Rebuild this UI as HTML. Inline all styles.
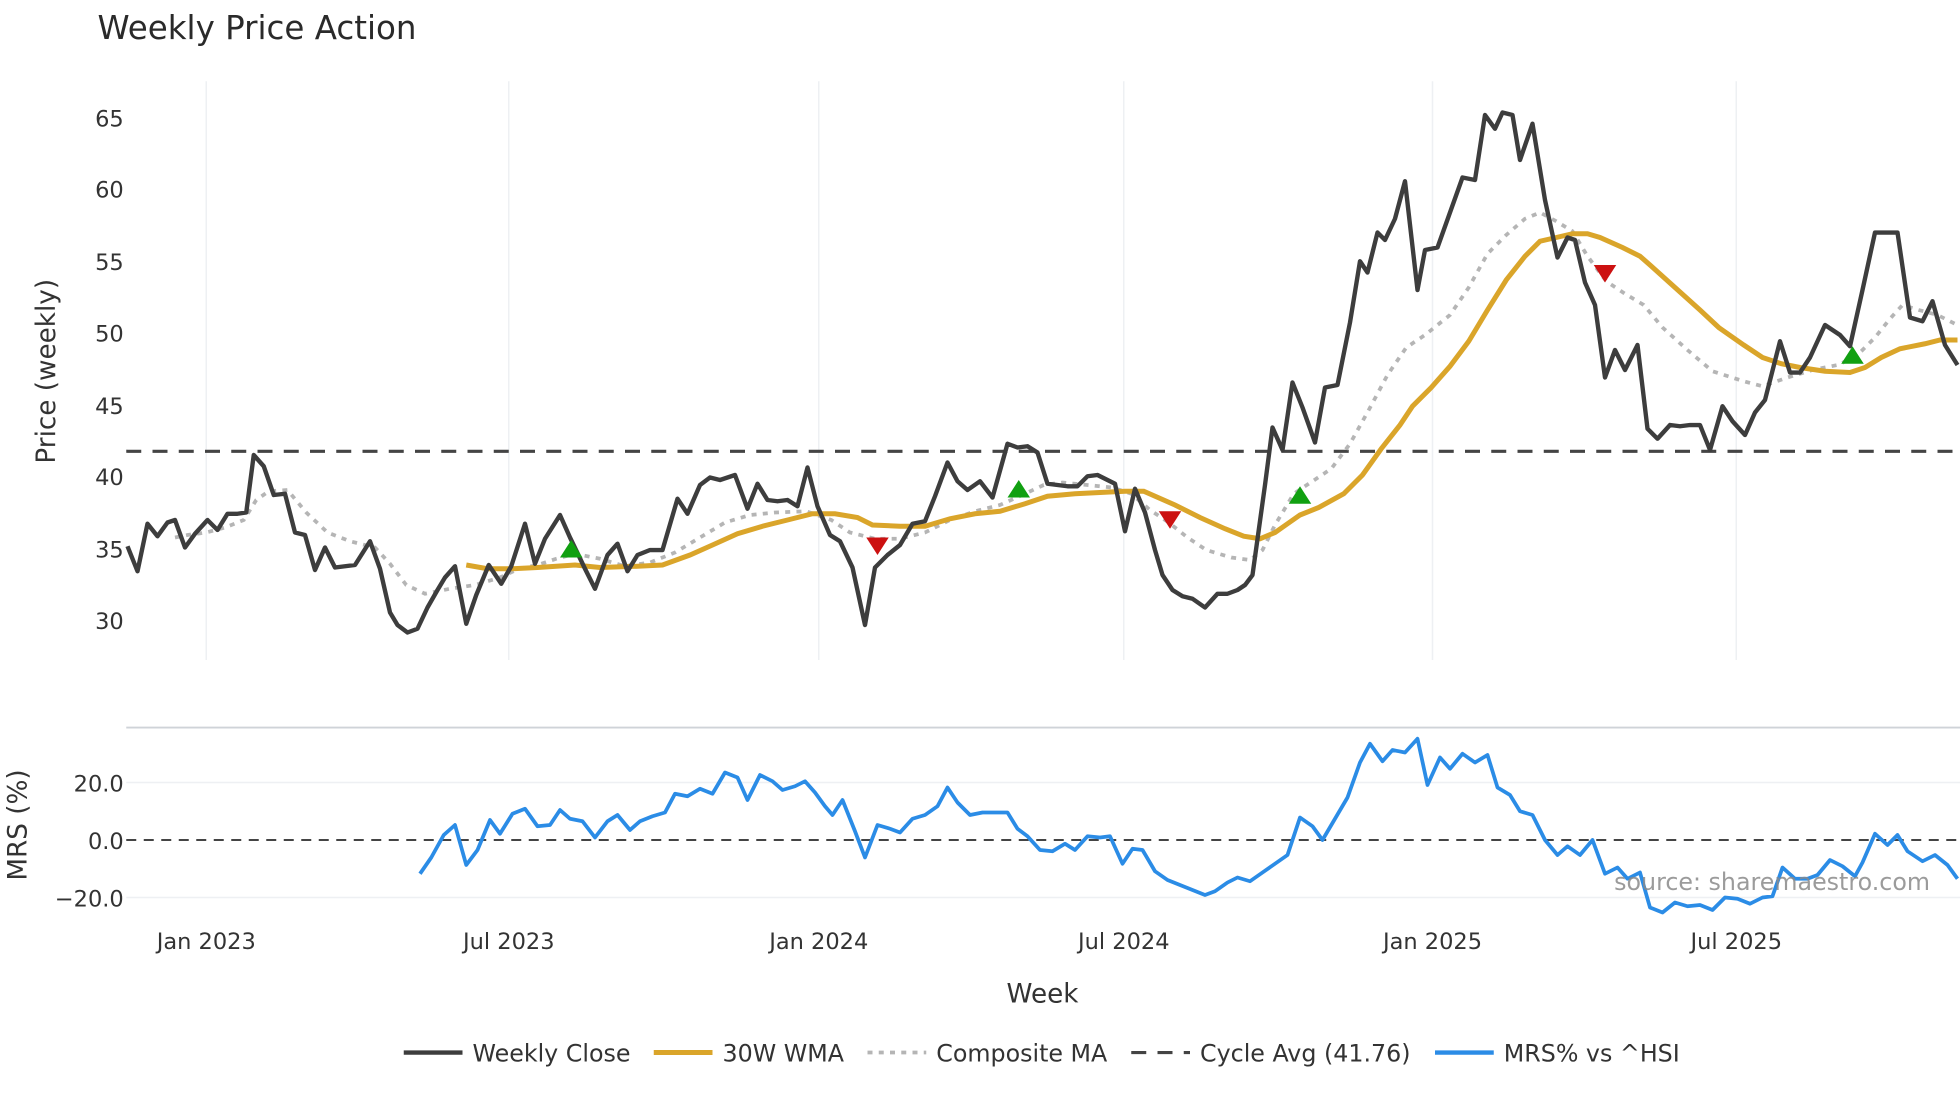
<!DOCTYPE html>
<html><head><meta charset="utf-8"><style>
html,body{margin:0;padding:0;background:#fff;}
svg{display:block;font-family:"DejaVu Sans","Liberation Sans",sans-serif;}
</style></head><body>
<svg width="1960" height="1102" viewBox="0 0 1568 881.6" xmlns="http://www.w3.org/2000/svg">
<rect width="1568" height="882" fill="#fff"/>
<text x="78" y="31" font-size="26" fill="#2a2a2a">Weekly Price Action</text>
<g stroke="#eef0f3" stroke-width="1.2">
<line x1="165" y1="65" x2="165" y2="528"/><line x1="407" y1="65" x2="407" y2="528"/>
<line x1="655" y1="65" x2="655" y2="528"/><line x1="899" y1="65" x2="899" y2="528"/>
<line x1="1146" y1="65" x2="1146" y2="528"/><line x1="1389" y1="65" x2="1389" y2="528"/>
<line x1="101" y1="626" x2="1568" y2="626"/><line x1="101" y1="718" x2="1568" y2="718"/>
</g>
<line x1="101" y1="582" x2="1568" y2="582" stroke="#cfd3d8" stroke-width="1.5"/>
<g font-size="18" fill="#333" text-anchor="end">
<text x="99" y="101">65</text><text x="99" y="158">60</text><text x="99" y="216">55</text>
<text x="99" y="273">50</text><text x="99" y="331">45</text><text x="99" y="388">40</text>
<text x="99" y="446">35</text><text x="99" y="503">30</text>
<text x="99" y="633">20.0</text><text x="99" y="679">0.0</text><text x="99" y="725">−20.0</text>
</g>
<text transform="translate(44,297) rotate(-90)" font-size="21" fill="#333" text-anchor="middle">Price (weekly)</text>
<text transform="translate(21,660) rotate(-90)" font-size="21" fill="#333" text-anchor="middle">MRS (%)</text>
<g font-size="18" fill="#333" text-anchor="middle">
<text x="165" y="759">Jan 2023</text><text x="407" y="759">Jul 2023</text><text x="655" y="759">Jan 2024</text>
<text x="899" y="759">Jul 2024</text><text x="1146" y="759">Jan 2025</text><text x="1389" y="759">Jul 2025</text>
</g>
<text x="834" y="802" font-size="21" fill="#333" text-anchor="middle">Week</text>
<line x1="101" y1="361" x2="1568" y2="361" stroke="#444" stroke-width="2.5" stroke-dasharray="12,9"/>
<line x1="101" y1="672" x2="1568" y2="672" stroke="#444" stroke-width="1.6" stroke-dasharray="8,6"/>
<polyline fill="none" stroke="#b5b5b5" stroke-width="3" stroke-dasharray="4,5" points="140,430 150,428 165,426 180,422 195,416 205,400 215,393 230,392 245,410 262,426 280,433 300,438 312,451 325,468 340,475 360,471 380,468 400,462 415,455 430,452 445,447 460,443 480,447 500,453 520,450 540,442 560,430 580,418 600,412 620,410 645,409 665,416 680,426 700,431 720,431 740,426 760,416 780,409 800,404 820,395 835,388 850,386 870,388 890,390 905,395 920,408 935,418 950,430 965,440 985,446 1000,448 1010,440 1020,420 1035,395 1050,385 1065,375 1080,355 1095,328 1110,300 1125,278 1140,268 1160,252 1175,230 1190,203 1205,188 1220,175 1232,170 1245,177 1258,185 1270,205 1285,225 1300,235 1315,244 1330,262 1350,280 1370,297 1395,305 1410,309 1430,302 1450,296 1470,292 1485,285 1500,270 1512,255 1522,244 1535,248 1550,252 1566,260"/>
<polyline fill="none" stroke="#daa52a" stroke-width="4" points="373,452 390,455 410,455 430,454 460,452 480,454 510,453 530,452 552,444 570,436 590,427 610,421 630,416 650,411 668,411 686,414 698,420 720,421 740,421 760,415 780,411 800,409 820,403 838,397 860,395 880,394 900,393 915,393 940,404 960,414 980,423 995,429 1008,431 1020,426 1030,419 1040,412 1055,406 1075,395 1090,380 1105,359 1120,340 1130,325 1145,310 1160,293 1175,273 1190,248 1205,224 1220,205 1232,193 1245,190 1258,187 1270,187 1280,190 1298,198 1312,205 1320,212 1340,230 1360,248 1375,262 1395,276 1410,286 1425,291 1440,294 1460,297 1480,298 1492,294 1505,286 1520,279 1540,275 1552,272 1566,272"/>
<polyline fill="none" stroke="#3d3d3d" stroke-width="3.5" stroke-linejoin="round" points="102,437 110,457 118,419 126,429 134,418 140,416 148,438 156,427 166,416 174,424 182,411 190,411 197,410 203,364 211,373 219,396 228,395 236,426 244,428 252,456 260,438 268,454 276,453 284,452 296,433 304,455 312,490 318,500 326,506 334,503 342,486 350,472 356,462 364,453 373,499 381,476 391,452 401,467 409,453 420,419 428,451 436,431 448,412 456,430 468,455 476,471 486,444 494,435 502,457 510,444 520,440 530,440 542,399 550,411 560,388 568,382 576,384 588,380 598,407 606,387 614,400 622,401 630,400 638,405 646,374 654,405 664,428 672,433 682,454 692,500 700,454 710,444 720,436 730,419 740,417 748,397 758,370 766,385 774,392 784,385 794,398 806,355 814,358 822,357 830,362 838,387 846,388 854,389 862,389 870,381 878,380 886,384 892,387 900,425 908,391 916,410 924,440 930,460 938,472 946,477 954,479 964,486 974,475 982,475 990,472 996,468 1002,460 1012,388 1018,342 1026,360 1034,306 1042,326 1052,354 1060,310 1070,308 1080,258 1088,209 1094,218 1102,186 1108,192 1116,175 1124,145 1134,232 1140,200 1150,198 1160,170 1170,142 1180,144 1188,92 1196,103 1202,90 1210,92 1216,128 1226,99 1236,160 1246,206 1254,190 1260,192 1268,226 1276,244 1284,302 1292,280 1300,296 1310,276 1318,343 1326,351 1336,340 1344,341 1352,340 1360,340 1368,360 1378,325 1386,337 1396,348 1404,330 1412,320 1424,273 1432,298 1440,298 1448,286 1460,260 1472,268 1480,277 1490,232 1500,186 1510,186 1518,186 1528,254 1538,257 1546,241 1556,276 1566,292"/>
<g fill="#11a011">
<polygon points="457,432 448,446 466,446"/><polygon points="815,384 806,398 824,398"/>
<polygon points="1040,389 1031,403 1049,403"/><polygon points="1482,277 1473,291 1491,291"/>
</g>
<g fill="#cc1111">
<polygon points="693,430 711,430 702,444"/><polygon points="927,409 945,409 936,423"/>
<polygon points="1275,212 1293,212 1284,226"/>
</g>
<polyline fill="none" stroke="#2b8ce6" stroke-width="3" stroke-linejoin="round" points="336,699 345,686 355,668 364,660 373,692 382,680 392,656 400,667 410,651 420,647 430,661 440,660 448,648 456,655 466,657 476,670 486,657 494,652 504,664 512,657 522,653 532,650 540,635 550,637 560,631 570,635 580,618 590,622 598,640 608,620 618,625 626,632 636,629 644,625 652,634 660,645 666,652 674,640 684,665 692,686 702,660 712,663 720,666 730,655 740,652 750,645 758,630 766,642 776,652 786,650 796,650 806,650 814,663 822,669 832,680 842,681 852,675 860,680 870,669 880,670 888,669 898,691 906,679 914,680 924,697 934,704 944,708 954,712 964,716 972,713 982,706 990,702 1000,705 1010,698 1020,691 1030,684 1040,654 1050,661 1058,672 1068,655 1078,638 1088,610 1096,595 1106,609 1114,600 1124,602 1134,591 1142,628 1152,606 1160,615 1170,603 1180,610 1190,604 1198,630 1208,636 1216,649 1226,652 1236,672 1246,684 1254,677 1264,684 1274,672 1284,699 1294,694 1302,703 1312,698 1320,726 1330,730 1340,722 1350,725 1360,724 1370,728 1380,718 1390,719 1400,723 1410,718 1418,717 1426,694 1436,703 1446,703 1454,700 1464,688 1474,693 1484,701 1490,690 1500,667 1510,676 1518,668 1526,681 1538,689 1548,684 1558,692 1566,703"/>
<text x="1544" y="712" font-size="19" fill="#8a8a8a" fill-opacity="0.85" text-anchor="end">source: sharemaestro.com</text>
<g font-size="19" fill="#333">
<line x1="323" y1="842" x2="370" y2="842" stroke="#3d3d3d" stroke-width="3.5"/><text x="378" y="849">Weekly Close</text>
<line x1="523" y1="842" x2="570" y2="842" stroke="#daa52a" stroke-width="4"/><text x="578" y="849">30W WMA</text>
<line x1="694" y1="842" x2="741" y2="842" stroke="#b5b5b5" stroke-width="3" stroke-dasharray="4,5"/><text x="749" y="849">Composite MA</text>
<line x1="905" y1="842" x2="952" y2="842" stroke="#444" stroke-width="2.5" stroke-dasharray="12,9"/><text x="960" y="849">Cycle Avg (41.76)</text>
<line x1="1148" y1="842" x2="1195" y2="842" stroke="#2b8ce6" stroke-width="3.5"/><text x="1203" y="849">MRS% vs ^HSI</text>
</g>
</svg>
</body></html>
